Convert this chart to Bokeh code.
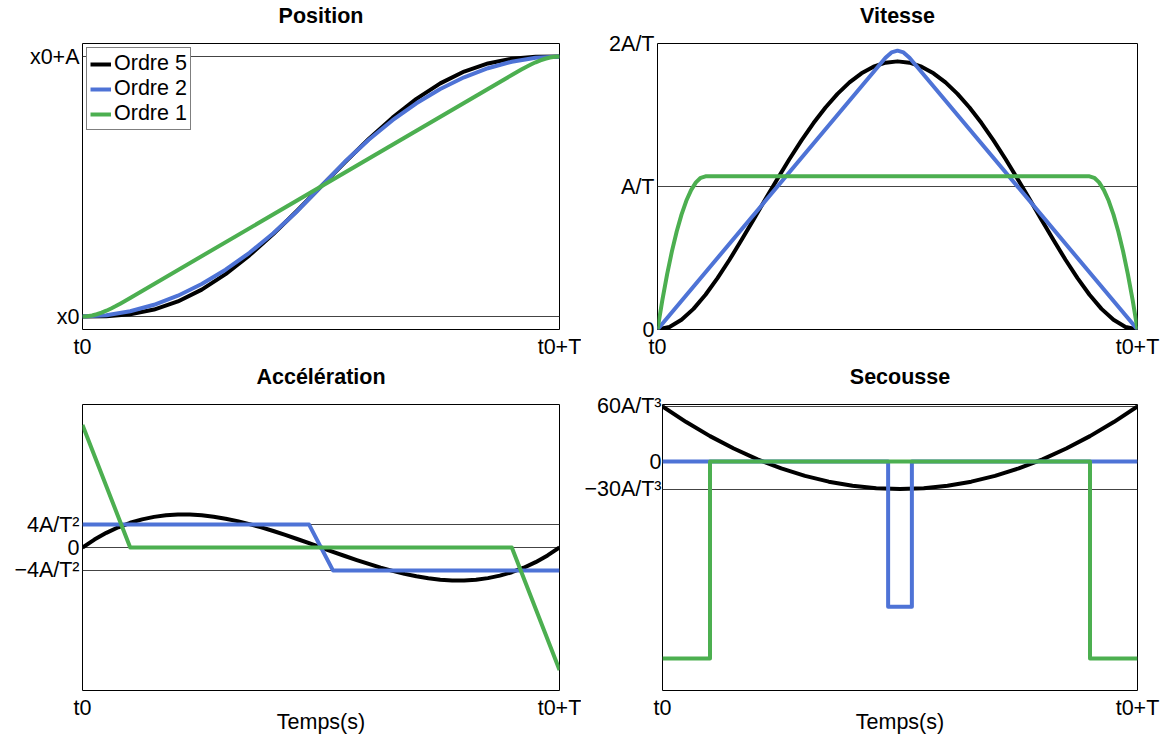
from bokeh.plotting import figure
from bokeh.models import Range1d, FixedTicker, Legend, LegendItem, Title
from bokeh.layouts import column, row
from bokeh.embed import file_html
from bokeh.resources import INLINE

# ---------------- data ----------------
series_names = ["Ordre 5", "Ordre 2", "Ordre 1"]
x_ticks = [0, 1]
x_tick_labels = ["t0", "t0+T"]

# Ordre 5 (black)
t5 = [0.0, 0.05, 0.1, 0.15, 0.2, 0.25, 0.3, 0.35, 0.4, 0.45, 0.5,
      0.55, 0.6, 0.65, 0.7, 0.75, 0.8, 0.85, 0.9, 0.95, 1.0]
pos5 = [0.0, 0.00116, 0.00856, 0.02661, 0.05792, 0.10352, 0.16308, 0.23517, 0.31744, 0.40687, 0.5,
        0.59313, 0.68256, 0.76483, 0.83692, 0.89648, 0.94208, 0.97339, 0.99144, 0.99884, 1.0]
sec5 = [60.0, 42.9, 27.6, 14.1, 2.4, -7.5, -15.6, -21.9, -26.4, -29.1, -30.0,
        -29.1, -26.4, -21.9, -15.6, -7.5, 2.4, 14.1, 27.6, 42.9, 60.0]
t5f = [0.0, 0.025, 0.05, 0.075, 0.1, 0.125, 0.15, 0.175, 0.2, 0.225, 0.25,
       0.275, 0.3, 0.325, 0.35, 0.375, 0.4, 0.425, 0.45, 0.475, 0.5,
       0.525, 0.55, 0.575, 0.6, 0.625, 0.65, 0.675, 0.7, 0.725, 0.75,
       0.775, 0.8, 0.825, 0.85, 0.875, 0.9, 0.925, 0.95, 0.975, 1.0]
vit5 = [0.0, 0.01782, 0.0677, 0.14439, 0.243, 0.35889, 0.4877, 0.62532, 0.768, 0.9122, 1.0547,
        1.19251, 1.323, 1.44376, 1.5527, 1.64795, 1.728, 1.79157, 1.8377, 1.86564, 1.875,
        1.86564, 1.8377, 1.79157, 1.728, 1.64795, 1.5527, 1.44376, 1.323, 1.19251, 1.0547,
        0.9122, 0.768, 0.62532, 0.4877, 0.35889, 0.243, 0.14439, 0.0677, 0.01782, 0.0]
acc5 = [0.0, 1.38938, 2.565, 3.53813, 4.32, 4.92188, 5.355, 5.63063, 5.76, 5.75438, 5.625,
        5.38313, 5.04, 4.60688, 4.095, 3.51563, 2.88, 2.19938, 1.485, 0.74813, 0.0,
        -0.74813, -1.485, -2.19938, -2.88, -3.51563, -4.095, -4.60688, -5.04, -5.38313, -5.625,
        -5.75438, -5.76, -5.63063, -5.355, -4.92188, -4.32, -3.53813, -2.565, -1.38938, 0.0]

# Ordre 2 (blue)
t2_pos = t5
pos2 = [0.0, 0.005, 0.02, 0.045, 0.08, 0.125, 0.18, 0.245, 0.32, 0.405, 0.5,
        0.595, 0.68, 0.755, 0.82, 0.875, 0.92, 0.955, 0.98, 0.995, 1.0]
t2_vit = [0.0, 0.475, 0.4875, 0.5, 0.5125, 0.525, 1.0]
vit2 = [0.0, 1.9, 1.9375, 1.95, 1.9375, 1.9, 0.0]
t2_acc = [0.0, 0.475, 0.525, 1.0]
acc2 = [4.0, 4.0, -4.0, -4.0]
t2_sec = [0.0, 0.475, 0.525, 1.0]
sec2 = [0.0, -158.0, 0.0, 0.0]

# Ordre 1 (green)
t1 = [0.0, 0.01, 0.02, 0.03, 0.04, 0.05, 0.06, 0.07, 0.08, 0.09, 0.1,
      0.9, 0.91, 0.92, 0.93, 0.94, 0.95, 0.96, 0.97, 0.98, 0.99, 1.0]
pos1 = [0.0, 0.00104, 0.004, 0.00868, 0.01486, 0.02232, 0.03086, 0.04025, 0.05029, 0.06075, 0.07143,
        0.92857, 0.93925, 0.94971, 0.95975, 0.96914, 0.97768, 0.98514, 0.99132, 0.996, 0.99896, 1.0]
vit1 = [0.0, 0.2036, 0.3857, 0.5464, 0.6857, 0.8036, 0.9, 0.975, 1.0286, 1.0607, 1.0714,
        1.0714, 1.0607, 1.0286, 0.975, 0.9, 0.8036, 0.6857, 0.5464, 0.3857, 0.2036, 0.0]
acc1 = [21.43, 19.29, 17.14, 15.0, 12.86, 10.71, 8.57, 6.43, 4.29, 2.14, 0.0,
        0.0, -2.14, -4.29, -6.43, -8.57, -10.71, -12.86, -15.0, -17.14, -19.29, -21.43]
t1_sec = [0.0, 0.1, 0.9, 1.0]
sec1 = [-214.3, 0.0, -214.3, -214.3]

# y ticks
pos_ticks = [0, 1]
pos_labels = ["x0", "x0+A"]
vit_ticks = [0, 1, 2]
vit_labels = ["0", "A/T", "2A/T"]
acc_ticks = [-4, 0, 4]
acc_labels = ["\u22124A/T\u00b2", "0", "4A/T\u00b2"]
sec_ticks = [-30, 0, 60]
sec_labels = ["\u221230A/T\u00b3", "0", "60A/T\u00b3"]

# ---------------- style ----------------
FONT = "Liberation Sans"
FS = "21.5px"
COLORS = ["#000000", "#4E73D6", "#4CAF50"]
LW = 4


def make_fig(title, width, height, left, right, top, bottom, yr, yticks, ylabels,
             xlabel=None, ystandoff=3):
    p = figure(width=width, height=height, x_range=Range1d(0, 1), y_range=Range1d(*yr),
               output_backend="svg", toolbar_location=None, title=None,
               min_border_left=left, min_border_right=right,
               min_border_top=top, min_border_bottom=bottom)
    # spacer (closest to the frame), then the real title above it
    p.add_layout(Title(text="\u00a0", text_font=FONT, text_font_size="12px", standoff=0), "above")
    p.add_layout(Title(text=title, align="center", text_font=FONT, text_font_size=FS,
                       text_font_style="bold", text_color="black", standoff=0), "above")
    p.xaxis.ticker = FixedTicker(ticks=x_ticks)
    p.xaxis.major_label_overrides = {k: v for k, v in zip(x_ticks, x_tick_labels)}
    p.yaxis.ticker = FixedTicker(ticks=yticks)
    p.yaxis.major_label_overrides = {k: v for k, v in zip(yticks, ylabels)}
    for ax in (p.xaxis[0], p.yaxis[0]):
        ax.axis_line_color = None
        ax.major_tick_in = 0
        ax.major_tick_out = 0
        ax.minor_tick_line_color = None
        ax.major_label_text_font = FONT
        ax.major_label_text_font_size = FS
        ax.major_label_text_color = "black"
    p.xaxis.major_label_standoff = 5
    p.yaxis.major_label_standoff = ystandoff
    if xlabel:
        p.xaxis.axis_label = xlabel
        p.xaxis.axis_label_text_font = FONT
        p.xaxis.axis_label_text_font_size = FS
        p.xaxis.axis_label_text_font_style = "normal"
        p.xaxis.axis_label_text_color = "black"
        p.xaxis.axis_label_standoff = -13
    p.xgrid.visible = False
    p.ygrid.grid_line_color = "#444444"
    p.ygrid.grid_line_width = 1
    p.outline_line_color = "black"
    p.outline_line_width = 1
    p.outline_line_alpha = 1
    p.background_fill_color = "white"
    p.border_fill_color = "white"
    return p


W1, W2 = 581, 580
H1, H2 = 361, 377

p1 = make_fig("Position", W1, H1, 82, 22, 43, 32, (-0.05, 1.05), pos_ticks, pos_labels)
r5 = p1.line(t5, pos5, color=COLORS[0], line_width=LW, line_join="round")
r2 = p1.line(t2_pos, pos2, color=COLORS[1], line_width=LW, line_join="round")
r1 = p1.line(t1, pos1, color=COLORS[2], line_width=LW, line_join="round")
legend = Legend(items=[LegendItem(label=series_names[0], renderers=[r5]),
                       LegendItem(label=series_names[1], renderers=[r2]),
                       LegendItem(label=series_names[2], renderers=[r1])],
                location="top_left")
legend.label_text_font = FONT
legend.label_text_font_size = FS
legend.label_text_color = "black"
legend.border_line_color = "black"
legend.border_line_width = 1
legend.background_fill_alpha = 1
legend.padding = 3
legend.spacing = 0
legend.margin = 4
legend.glyph_width = 21
legend.glyph_height = 20
legend.label_height = 20
legend.label_standoff = 3
p1.add_layout(legend)

p2 = make_fig("Vitesse", W2, H1, 76, 24, 43, 32, (0, 2), vit_ticks, vit_labels)
p2.line(t5f, vit5, color=COLORS[0], line_width=LW, line_join="round")
p2.line(t2_vit, vit2, color=COLORS[1], line_width=LW, line_join="round")
p2.line(t1, vit1, color=COLORS[2], line_width=LW, line_join="round")

p3 = make_fig("Accélération", W1, H2, 82, 22, 43, 48, (-25, 25), acc_ticks, acc_labels, "Temps(s)")
p3.line(t5f, acc5, color=COLORS[0], line_width=LW, line_join="round")
p3.line(t2_acc, acc2, color=COLORS[1], line_width=LW, line_join="round")
p3.line(t1, acc1, color=COLORS[2], line_width=LW, line_join="round")

p4 = make_fig("Secousse", W2, H2, 78, 24, 43, 48, (-249, 62), sec_ticks, sec_labels,
              "Temps(s)", ystandoff=1)
p4.line(t5, sec5, color=COLORS[0], line_width=LW, line_join="round")
p4.step(t2_sec, sec2, mode="after", color=COLORS[1], line_width=LW, line_join="round")
p4.step(t1_sec, sec1, mode="after", color=COLORS[2], line_width=LW, line_join="round")

layout = column(row(p1, p2), row(p3, p4))
open("out.html", "w").write(file_html(layout, INLINE))
